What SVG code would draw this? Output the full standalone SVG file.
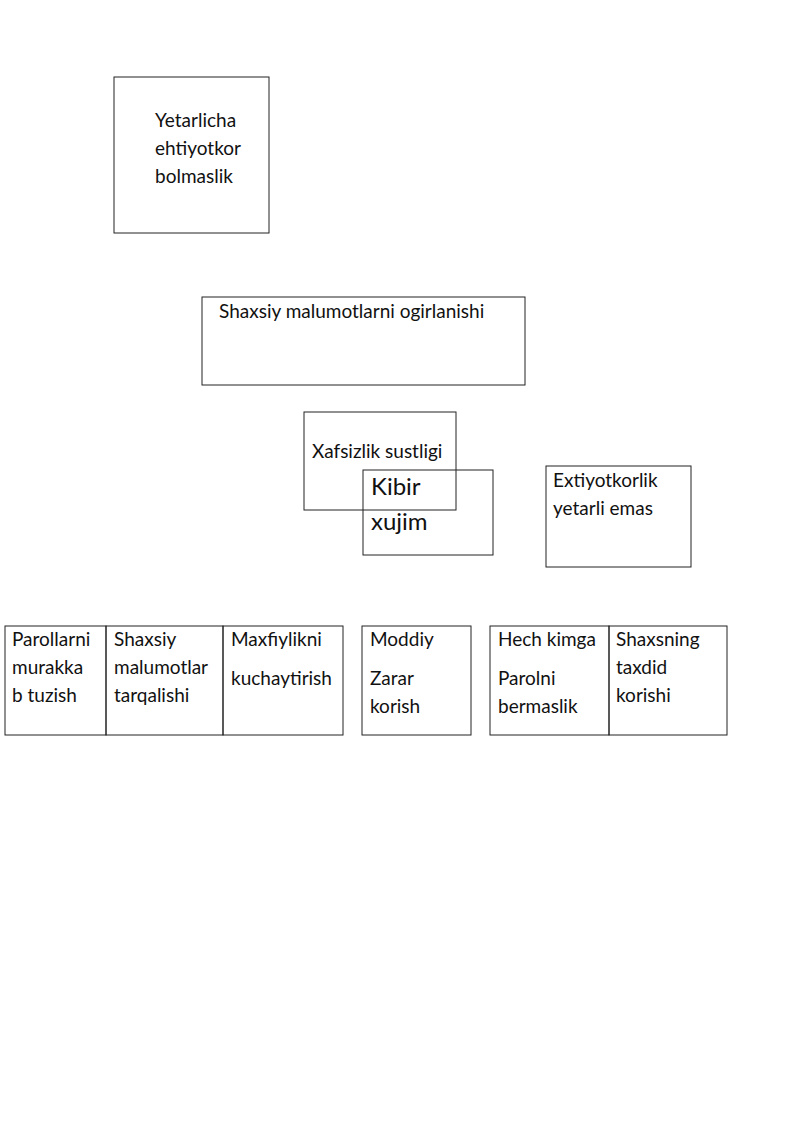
<svg xmlns="http://www.w3.org/2000/svg" width="800" height="1131" viewBox="0 0 800 1131">
<style>
.b{fill:none;stroke:#222;stroke-width:1}
text{font-family:Lato,"Open Sans",sans-serif;font-size:19px;fill:#111}
.big{font-size:24px}
</style>
<rect width="800" height="1131" fill="#fff"/>
<g id="n1"><rect class="b" x="114" y="77" width="155" height="156"/><text x="155" y="127">Yetarlicha</text><text x="155" y="155">ehtiyotkor</text><text x="155" y="183">bolmaslik</text></g>
<g id="n2"><rect class="b" x="202" y="297" width="323" height="88"/><text x="219" y="318">Shaxsiy malumotlarni ogirlanishi</text></g>
<g id="n3"><rect class="b" x="304" y="412" width="152" height="98"/><text x="312" y="458">Xafsizlik sustligi</text></g>
<g id="n4"><rect class="b" x="363" y="470" width="130" height="85"/><text class="big" x="371" y="495">Kibir</text><text class="big" x="371" y="530">xujim</text></g>
<g id="n5"><rect class="b" x="546" y="466" width="145" height="101"/><text x="553" y="487">Extiyotkorlik</text><text x="553" y="515">yetarli emas</text></g>
<g id="n6"><rect class="b" x="5" y="626" width="101" height="109"/><text x="12" y="646">Parollarni</text><text x="12" y="674">murakka</text><text x="12" y="702">b tuzish</text></g>
<g id="n7"><rect class="b" x="106" y="626" width="117" height="109"/><text x="114" y="646">Shaxsiy</text><text x="114" y="674">malumotlar</text><text x="114" y="702">tarqalishi</text></g>
<g id="n8"><rect class="b" x="223" y="626" width="120" height="109"/><text x="231" y="646">Maxfiylikni</text><text x="231" y="685">kuchaytirish</text></g>
<g id="n9"><rect class="b" x="362" y="626" width="109" height="109"/><text x="370" y="646">Moddiy</text><text x="370" y="685">Zarar</text><text x="370" y="713">korish</text></g>
<g id="n10"><rect class="b" x="490" y="626" width="119" height="109"/><text x="498" y="646">Hech kimga</text><text x="498" y="685">Parolni</text><text x="498" y="713">bermaslik</text></g>
<g id="n11"><rect class="b" x="609" y="626" width="118" height="109"/><text x="616" y="646">Shaxsning</text><text x="616" y="674">taxdid</text><text x="616" y="702">korishi</text></g>
<g id="connectors"></g>
</svg>
